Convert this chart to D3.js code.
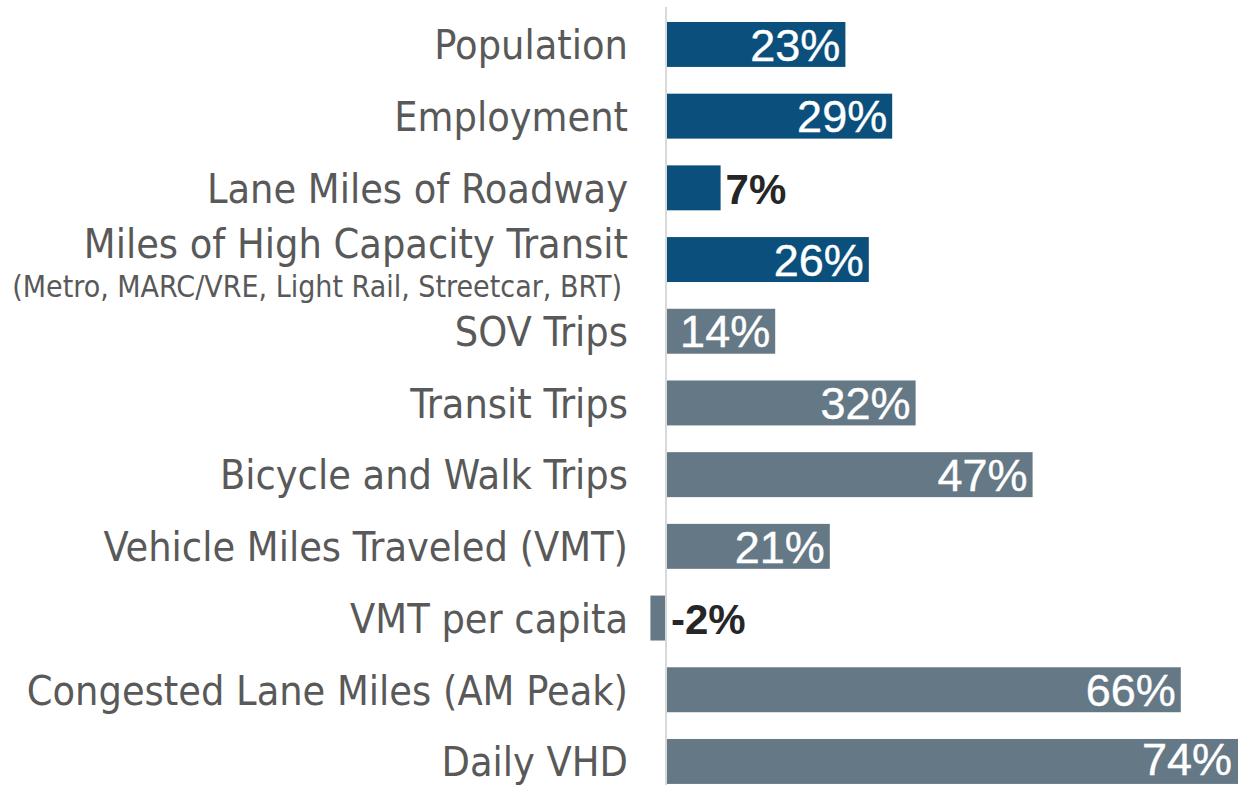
<!DOCTYPE html>
<html>
<head>
<meta charset="utf-8">
<script src="https://cdn.jsdelivr.net/npm/d3@7"></script>
<style>
  html, body { margin: 0; padding: 0; background: #fff; }
  svg { display: block; }
</style>
</head>
<body>
<svg id="chart" width="1238" height="785"></svg>
<script>
// Projected change by measure
const categories = [
  "Population",
  "Employment",
  "Lane Miles of Roadway",
  "Miles of High Capacity Transit",
  "SOV Trips",
  "Transit Trips",
  "Bicycle and Walk Trips",
  "Vehicle Miles Traveled (VMT)",
  "VMT per capita",
  "Congested Lane Miles (AM Peak)",
  "Daily VHD"
];
const sublabels = ["", "", "", "(Metro, MARC/VRE, Light Rail, Streetcar, BRT)", "", "", "", "", "", "", ""];
const values = [23, 29, 7, 26, 14, 32, 47, 21, -2, 66, 74];
const groups = ["growth", "growth", "growth", "growth", "travel", "travel", "travel", "travel", "travel", "travel", "travel"];

const colors = { growth: "#0B4F7D", travel: "#657886" };

const svg = d3.select("#chart");
const W = 1238, H = 785;

const x = d3.scaleLinear().domain([0, 74]).range([666, 666 + 7.8 * 74]);
const y = d3.scaleBand()
  .domain(categories)
  .range([8.6, 797.3])
  .paddingInner(0.373)
  .paddingOuter(0.1865);

const labelFont = "'Liberation Sans Narrow', 'DejaVu Sans Condensed', sans-serif";
const valueFont = "'Liberation Sans', Arial, sans-serif";

// bars
svg.append("g").selectAll("rect")
  .data(values)
  .join("rect")
  .attr("x", d => x(Math.min(0, d)))
  .attr("y", (d, i) => y(categories[i]))
  .attr("width", d => Math.abs(x(d) - x(0)))
  .attr("height", y.bandwidth())
  .attr("fill", (d, i) => colors[groups[i]]);

// zero axis line
svg.append("line")
  .attr("x1", x(0)).attr("x2", x(0))
  .attr("y1", 7).attr("y2", H)
  .attr("stroke", "#d9d9d9")
  .attr("stroke-width", 2);

// category labels
const labels = svg.append("g").attr("text-anchor", "end")
  .attr("font-family", labelFont).attr("fill", "#595959");

categories.forEach((c, i) => {
  const cy = y(c) + y.bandwidth() / 2;
  if (sublabels[i]) {
    labels.append("text")
      .attr("x", 628).attr("y", cy - 2)
      .attr("font-size", 41)
      .text(c);
    labels.append("text")
      .attr("x", 622).attr("y", cy + 37)
      .attr("font-size", 30)
      .text(sublabels[i]);
  } else {
    labels.append("text")
      .attr("x", 628).attr("y", cy)
      .attr("dy", "0.36em")
      .attr("font-size", 41)
      .text(c);
  }
});

// value labels: inside the bar end when there is room, otherwise just outside
const valueSize = 45;
svg.append("g").selectAll("text")
  .data(values)
  .join("text")
  .attr("font-family", valueFont)
  .attr("font-size", valueSize)
  // baseline sits ~0.36em below the bar centre, kept clear of the bottom edge
  .attr("y", (d, i) => Math.min(y(categories[i]) + y.bandwidth() / 2 + 0.36 * valueSize, H - 0.23 * valueSize))
  .each(function (d) {
    const t = d3.select(this).text(d + "%");
    if (Math.abs(d) >= 12) {
      t.attr("x", Math.min(x(d) - 5, W - 6)).attr("text-anchor", "end")
        .attr("fill", "#ffffff")
        .attr("stroke", "#ffffff").attr("stroke-width", 0.4);
    } else {
      t.attr("x", x(Math.max(0, d)) + 5).attr("text-anchor", "start")
        .attr("fill", "#262626").attr("font-weight", 700)
        .attr("font-size", 42);
    }
  });
</script>
</body>
</html>
